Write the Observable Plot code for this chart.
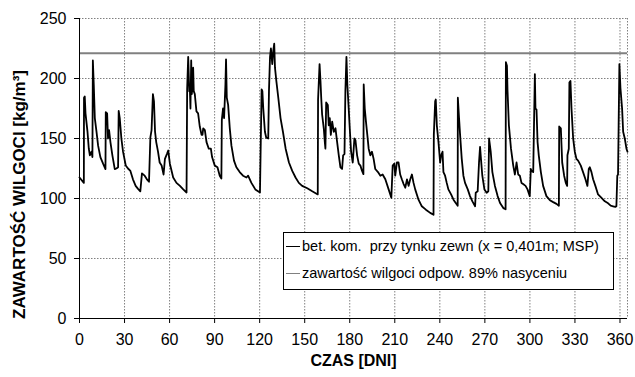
<!DOCTYPE html>
<html><head><meta charset="utf-8">
<script src="https://cdn.jsdelivr.net/npm/d3@7"></script>
<script src="https://cdn.jsdelivr.net/npm/@observablehq/plot@0.6"></script>
<style>
body{margin:0;background:#fff;font-family:"Liberation Sans",Arial,sans-serif;}
#wrap{position:relative;width:635px;height:377px;overflow:hidden;}
.legend{position:absolute;left:283px;top:232px;width:331px;height:58px;border:1px solid #000;background:#fff;box-sizing:border-box;font-size:14.5px;color:#000;}
.legend .row{position:absolute;left:2px;height:16px;display:flex;align-items:center;white-space:pre;}
.legend .sw{display:inline-block;width:14px;margin-right:2px;}
</style></head><body><div id="wrap"></div>
<script>
const days = [0,2.9,3.0,3.5,4.0,5.3,6.2,6.9,8.0,8.6,8.9,9.5,10.2,11.3,12.4,13.9,15.7,17.3,17.5,18.4,19.0,19.7,20.6,21.9,23.5,24.6,25.7,26.1,26.8,27.9,29.0,30.8,32.3,33.9,35.6,37.4,39.0,40.5,41.6,43.4,44.9,46.3,47.2,48.0,48.9,49.6,50.3,51.1,52.3,53.4,54.7,56.0,56.9,58.2,59.1,60.2,62.4,64.6,66.9,69.1,71.3,71.7,72.4,73.1,73.5,73.9,74.4,74.8,75.3,75.7,76.1,76.8,77.9,79.0,80.1,81.3,81.9,82.4,83.5,84.6,86.1,87.5,88.3,90.1,91.9,93.4,94.5,94.8,95.6,96.3,97.2,97.6,98.1,99.0,100.1,101.2,102.9,104.5,106.7,108.9,111.2,112.3,114.5,117.1,120.2,121.3,121.8,122.4,123.5,124.4,125.7,126.2,126.9,127.5,128.4,129.1,129.7,130.2,131.1,132.4,133.9,135.5,137.3,139.5,141.7,143.9,146.1,148.3,151.7,155.0,158.7,158.9,159.9,160.5,161.0,161.6,162.7,163.4,163.8,164.3,165.4,166.0,166.7,167.4,168.3,169.4,170.5,171.6,172.7,173.8,174.9,175.6,176.5,177.1,177.8,178.4,179.3,180.0,180.9,182.0,183.1,183.8,184.9,186.0,187.1,188.2,189.1,189.3,190.0,190.8,191.7,192.6,193.7,194.8,195.9,197.0,198.8,200.4,201.9,203.7,205.9,207.7,208.6,209.7,210.3,211.4,212.5,213.6,214.7,215.9,217.0,218.1,219.2,220.3,221.4,222.5,223.6,225.8,228.0,230.7,233.6,235.8,236.0,236.9,237.3,238.0,239.1,240.2,240.9,241.8,242.4,243.5,244.6,245.7,247.5,249.1,250.6,251.9,252.0,252.8,253.5,254.6,255.7,256.8,258.6,260.1,261.7,263.5,263.9,265.2,266.1,266.8,267.4,268.3,269.7,271.2,272.3,272.8,273.9,275.0,276.7,278.5,280.1,282.3,283.8,284.0,284.7,285.1,286.0,287.4,288.9,290.0,291.1,292.2,293.3,294.4,295.5,297.1,298.4,299.9,300.6,301.1,302.2,303.3,303.7,304.4,305.1,305.9,307.3,308.8,311.0,313.3,315.5,317.7,319.3,319.5,320.6,321.5,322.8,323.9,324.8,325.0,325.9,326.3,327.0,327.7,328.8,329.9,331.0,332.1,333.9,335.4,337.0,338.3,339.2,339.9,341.0,342.1,343.6,345.4,347.7,349.9,352.1,353.8,355.4,356.9,357.6,358.2,358.7,359.1,359.6,360.3,361.4,362.1,363.2,364.3,365.0];
const moisture = [117.5,113,184,185,171,156,141.5,136,139,134.5,215,195,167,156,144,134.5,129,124.5,172,171,150,157,147,136,124.5,125,126,173,167,150,139,127.5,125,123,116,110.5,108,106,121,119,116,114,151,157,187,181,156,147,139,130,127.5,120,133,137,140,129,117.5,113,110.5,107.6,105,191,218,189.5,192,175,215,187,195,209,189.5,187,172.6,171,160,153,153,158.5,157,147,141.5,141.5,134.5,127.4,126,119,116.7,165.5,175,167,195,216,184,178,158.5,144,131.6,126,122,119,117.5,119,113,107.6,105,191,189.5,175,155.6,150.6,150,189.5,218,225,212,223.5,229,209,198,184,167,155.6,141.5,130,123,117.5,113,110.5,108.5,106,103.4,182.5,212,198,184,170,158.5,147,141.5,180,178,161,167,153,164,155.6,158.5,147,136,126,124.6,136,137,189.5,218,195,175,158.5,139,130,150,148.6,136,129,127.4,123,120.3,195,175,164,153,141.5,136,139,133,124.6,122,119,120,116,107.6,100.6,127.4,129,119,130,130,120,116,112,109,116,110.5,116,120,113,107.6,99,93.5,90.7,88,86.5,153,181,182.5,161,147,130,136,139,122,119,113,107.6,103.4,99,96.3,94,184,167,153,133,119,113,107.6,102,97.6,93.5,104.8,106,130,143,133,119,107.6,104.8,106,150,139,122,110.5,102,96.3,92,91,213.6,210.7,189.5,161,141.5,127.4,120,130,120,119,113,112,110.5,107.6,102,124.6,123,122,203.7,175,174,147,136,122,110.5,102,98.6,97,95.5,94,160,158.5,130,119,113,110.5,136,141.5,196.6,198,175,150,139,133,131.6,127.4,122,116,110.5,124.6,126,122,116,110.5,103.4,100.6,97.7,96,94,93.5,93,93.5,119,120,161,212,192,175,155.6,150,141.5,139];
const saturationLevel = [221];
const xTicks = [0,30,60,90,120,150,180,210,240,270,300,330,360];
const yTicks = [0,50,100,150,200,250];
const xTitle = "CZAS [DNI]";
const yTitle = "ZAWARTOŚĆ WILGOCI [kg/m³]";
const legendLabels = ["bet. kom.  przy tynku zewn (x = 0,401m; MSP)", "zawartość wilgoci odpow. 89% nasyceniu"];

const data = days.map((d, i) => ({day: d, value: moisture[i]}));
const gridStyle = {stroke: "#808080", strokeOpacity: 1, strokeWidth: 1, strokeDasharray: "1.5,1.5"};

const chart = Plot.plot({
  width: 635, height: 377,
  marginLeft: 79, marginRight: 8, marginTop: 18, marginBottom: 59,
  style: {fontFamily: "'Liberation Sans', Arial, sans-serif", fontSize: "16px", color: "#000", background: "#fff"},
  x: {domain: [0, 365], label: null},
  y: {domain: [0, 250], label: null},
  marks: [
    Plot.gridX(xTicks.slice(1), gridStyle),
    Plot.gridY(yTicks.slice(1), gridStyle),
    Plot.ruleX([365], gridStyle),
    Plot.ruleY(saturationLevel, {stroke: "#808080", strokeWidth: 2}),
    Plot.line(data, {x: "day", y: "value", stroke: "#000", strokeWidth: 1.8}),
    Plot.axisX(xTicks, {tickSize: 5, tickPadding: 10, fontSize: 16, label: null}),
    Plot.axisY(yTicks, {tickSize: 5, tickPadding: 8, fontSize: 16, label: null}),
    Plot.ruleX([0], {stroke: "#000"}),
    Plot.ruleY([0], {stroke: "#000"}),
    Plot.text([xTitle], {frameAnchor: "bottom", dy: 47, fontWeight: "bold", fontSize: 16}),
    Plot.text([yTitle], {frameAnchor: "left", textAnchor: "middle", dx: -60, dy: 26, rotate: -90, fontWeight: "bold", fontSize: 17})
  ]
});
const wrap = document.getElementById("wrap");
wrap.appendChild(chart);

const legend = document.createElement("div");
legend.className = "legend";
const swatches = [{c: "#000", w: 1.6}, {c: "#808080", w: 1}];
legendLabels.forEach((t, i) => {
  const row = document.createElement("div");
  row.className = "row";
  row.style.top = (i === 0 ? 5 : 32) + "px";
  const sw = document.createElement("span");
  sw.className = "sw";
  sw.style.borderTop = swatches[i].w + "px solid " + swatches[i].c;
  row.appendChild(sw);
  row.appendChild(document.createTextNode(t));
  legend.appendChild(row);
});
wrap.appendChild(legend);
</script></body></html>
